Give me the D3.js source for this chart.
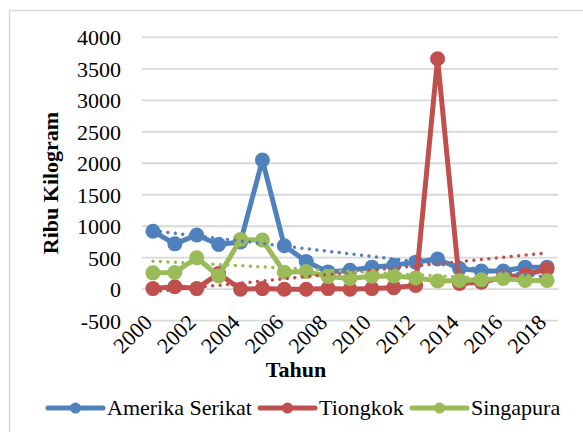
<!DOCTYPE html>
<html>
<head>
<meta charset="utf-8">
<script src="https://cdn.jsdelivr.net/npm/d3@7"></script>
<style>
    body { margin: 0; background: #fff; }
    svg text { font-family: "Liberation Serif", "Times New Roman", serif; fill: #000; }
</style>
</head>
<body>
<div id="chart"></div>
<script>
// Data
const years = d3.range(2000, 2019);
const yTicks = [-500, 0, 500, 1000, 1500, 2000, 2500, 3000, 3500, 4000];
const amerika = [920, 720, 860, 710, 750, 2050, 690, 440, 275, 300, 350, 380, 430, 480, 330, 290, 290, 350, 350];
const tiongkok = [10, 40, 10, 250, 0, 10, 0, 0, 10, 0, 10, 25, 60, 3660, 90, 110, 190, 230, 320];
const singapura = [260, 265, 500, 210, 790, 780, 270, 280, 200, 170, 205, 210, 180, 130, 140, 150, 170, 140, 140];
// trendline end values (2000, 2018)
const trendAmerika = [930, 195];
const trendTiongkok = [-40, 575];
const trendSingapura = [445, 120];

const series = [
    { name: 'Amerika Serikat', values: amerika, trend: trendAmerika, color: '#4F81BD' },
    { name: 'Tiongkok', values: tiongkok, trend: trendTiongkok, color: '#C0504D' },
    { name: 'Singapura', values: singapura, trend: trendSingapura, color: '#9BBB59' }
];

const width = 583, height = 432;
const plot = { left: 142, right: 558, top: 37.3, bottom: 320.7 };

const svg = d3.select('#chart').append('svg')
    .attr('width', width)
    .attr('height', height);

// chart border
svg.append('rect')
    .attr('x', 9.5).attr('y', 10.5)
    .attr('width', 600).attr('height', 500)
    .style('fill', 'none')
    .style('stroke', '#D9D9D9')
    .style('stroke-width', 1.5);

const x = d3.scalePoint(years, [plot.left, plot.right]).padding(0.5);
const y = d3.scaleLinear([-500, 4000], [plot.bottom, plot.top]);

// gridlines
svg.append('g')
    .selectAll('line')
    .data(yTicks)
    .join('line')
    .attr('x1', plot.left).attr('x2', plot.right)
    .attr('y1', d => y(d)).attr('y2', d => y(d))
    .style('stroke', '#D9D9D9')
    .style('stroke-width', 1.8);

// y axis
const axisY = svg.append('g')
    .attr('transform', `translate(${plot.left - 21}, 0)`)
    .call(d3.axisLeft(y).tickValues(yTicks).tickFormat(d => String(d)).tickSize(0).tickPadding(0));
axisY.attr('font-family', null);
axisY.select('.domain').remove();
axisY.selectAll('text')
    .style('font-size', '22px')
    .attr('dy', '0.34em');

// x axis, every second year, rotated
const axisX = svg.append('g')
    .attr('transform', `translate(0, ${plot.bottom})`)
    .call(d3.axisBottom(x).tickValues(years.filter(d => d % 2 === 0)).tickFormat(d => String(d)).tickSize(0));
axisX.attr('font-family', null);
axisX.select('.domain').remove();
axisX.selectAll('text')
    .style('font-size', '22px')
    .style('text-anchor', 'end')
    .attr('y', 0)
    .attr('dy', 0)
    .attr('transform', 'translate(0, 3) rotate(-45)');

// axis titles
svg.append('text')
    .attr('transform', `translate(58, 183) rotate(-90)`)
    .style('text-anchor', 'middle')
    .style('font-size', '22px')
    .style('font-weight', 'bold')
    .text('Ribu Kilogram');
svg.append('text')
    .attr('x', 296).attr('y', 377)
    .style('text-anchor', 'middle')
    .style('font-size', '22px')
    .style('font-weight', 'bold')
    .text('Tahun');

// series lines and markers
const line = d3.line()
    .x((d, i) => x(years[i]))
    .y(d => y(d));

series.forEach(s => {
    const g = svg.append('g');
    g.append('path')
        .datum(s.values)
        .attr('d', line)
        .style('fill', 'none')
        .style('stroke', s.color)
        .style('stroke-width', 5)
        .style('stroke-linejoin', 'round');
    g.selectAll('circle')
        .data(s.values)
        .join('circle')
        .attr('cx', (d, i) => x(years[i]))
        .attr('cy', d => y(d))
        .attr('r', 7.5)
        .style('fill', s.color);
});

// dotted trendlines
const trendYears = [years[0], years[years.length - 1]];
series.forEach(s => {
    svg.append('path')
        .datum(s.trend)
        .attr('d', d3.line().x((d, i) => x(trendYears[i])).y(d => y(d)))
        .style('fill', 'none')
        .style('stroke', s.color)
        .style('stroke-width', 3.5)
        .style('stroke-linecap', 'round')
        .style('stroke-dasharray', '0, 7.5');
});

// legend
const legendX = [48, 260, 412];
const legend = svg.append('g')
    .selectAll('g')
    .data(series)
    .join('g')
    .attr('transform', (d, i) => `translate(${legendX[i]}, 408)`);
legend.append('line')
    .attr('x1', 0).attr('x2', 55)
    .style('stroke', d => d.color)
    .style('stroke-width', 5)
    .style('stroke-linecap', 'round');
legend.append('circle')
    .attr('cx', 27.5)
    .attr('r', 5.5)
    .style('fill', d => d.color);
legend.append('text')
    .attr('x', 59)
    .attr('y', 7)
    .style('font-size', '22px')
    .text(d => d.name);
</script>
</body>
</html>
